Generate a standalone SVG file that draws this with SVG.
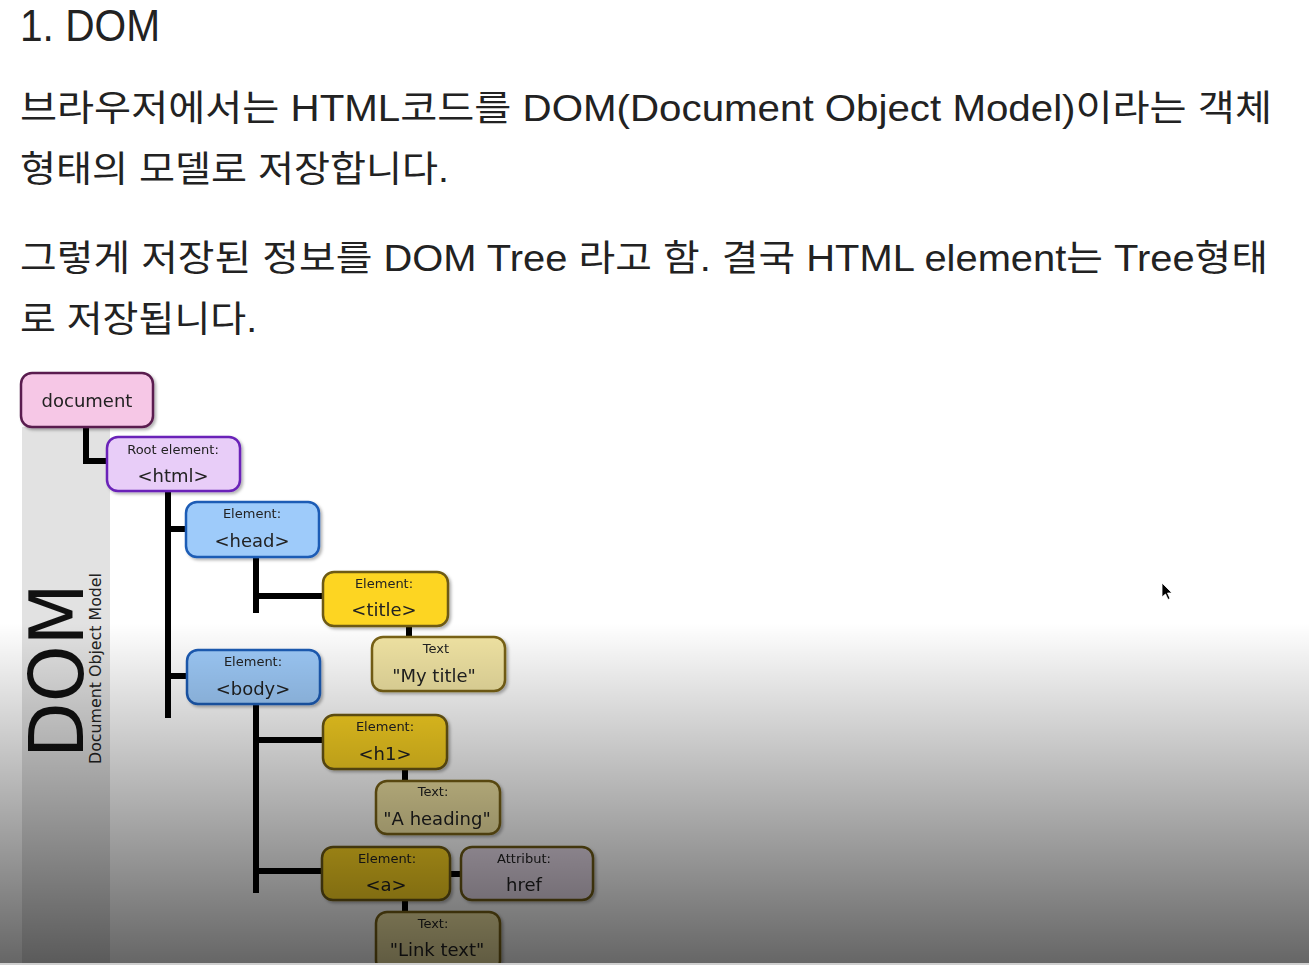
<svg xmlns="http://www.w3.org/2000/svg" width="1309" height="965" viewBox="0 0 1309 965">
<defs>
<style>
.para{font-family:"Liberation Sans","Noto Sans CJK KR",sans-serif;fill:#222;}
.lbl{font-family:"DejaVu Sans",sans-serif;font-size:13px;fill:#222;text-anchor:middle;}
.val{font-family:"DejaVu Sans",sans-serif;font-size:18px;fill:#222;text-anchor:middle;}
.box{stroke-width:2.5;}
.conn{fill:none;stroke:#000;stroke-width:6;stroke-linecap:butt;stroke-linejoin:miter;}
</style>
<filter id="sh" x="-10%" y="-10%" width="130%" height="140%">
<feDropShadow dx="2" dy="2" stdDeviation="1.5" flood-color="#000" flood-opacity="0.3"/>
</filter>
<linearGradient id="fade" x1="0" y1="623" x2="0" y2="963" gradientUnits="userSpaceOnUse">
<stop offset="0" stop-color="#000" stop-opacity="0"/>
<stop offset="1" stop-color="#000" stop-opacity="0.6"/>
</linearGradient>
</defs>
<rect x="0" y="0" width="1309" height="965" fill="#fff"/>

<g id="texts">
<text class="para" x="20" y="41" font-size="44" textLength="140" lengthAdjust="spacingAndGlyphs">1. DOM</text>
<text class="para" x="20" y="121" font-size="36" textLength="1252" lengthAdjust="spacingAndGlyphs">브라우저에서는 HTML코드를 DOM(Document Object Model)이라는 객체</text>
<text class="para" x="20" y="182" font-size="36" textLength="429" lengthAdjust="spacingAndGlyphs">형태의 모델로 저장합니다.</text>
<text class="para" x="20" y="271" font-size="36" textLength="1248" lengthAdjust="spacingAndGlyphs">그렇게 저장된 정보를 DOM Tree 라고 함. 결국 HTML element는 Tree형태</text>
<text class="para" x="20" y="332" font-size="36" textLength="237" lengthAdjust="spacingAndGlyphs">로 저장됩니다.</text>
</g>

<g id="sidebar">
<rect x="22" y="427" width="88" height="538" fill="#e2e2e2"/>
<text x="0" y="0" transform="translate(83,758) rotate(-90)" font-family="DejaVu Sans, sans-serif" font-size="74" fill="#111" textLength="175" lengthAdjust="spacingAndGlyphs">DOM</text>
<text x="0" y="0" transform="translate(101,764) rotate(-90)" font-family="DejaVu Sans, sans-serif" font-size="16" fill="#222" textLength="191" lengthAdjust="spacingAndGlyphs">Document Object Model</text>
</g>

<g id="connectors">
<path class="conn" d="M86,427 V461 H107"/>
<path class="conn" d="M168,491 V718"/>
<path class="conn" d="M168,529 H186"/>
<path class="conn" d="M168,676 H187"/>
<path class="conn" d="M256,557 V613"/>
<path class="conn" d="M256,596 H323"/>
<path class="conn" d="M409,626 V637"/>
<path class="conn" d="M256,704 V893"/>
<path class="conn" d="M256,740 H323"/>
<path class="conn" d="M256,871 H322"/>
<path class="conn" d="M405,769 V781"/>
<path class="conn" d="M450,874 H461"/>
<path class="conn" d="M405,900 V912"/>
</g>

<g id="node-document" filter="url(#sh)">
<rect class="box" x="21" y="373" width="132" height="54" rx="11" fill="#f6c7e6" stroke="#5a1f4f"/>
<text class="val" x="87" y="407">document</text>
</g>
<g id="node-html" filter="url(#sh)">
<rect class="box" x="107" y="437" width="133" height="54" rx="11" fill="#e8cdf8" stroke="#6a24b8"/>
<text class="lbl" x="173" y="454">Root element:</text>
<text class="val" x="173" y="482">&lt;html&gt;</text>
</g>
<g id="node-head" filter="url(#sh)">
<rect class="box" x="186" y="502" width="133" height="55" rx="11" fill="#9ecbfa" stroke="#1c5bb5"/>
<text class="lbl" x="252" y="518">Element:</text>
<text class="val" x="252" y="547">&lt;head&gt;</text>
</g>
<g id="node-title" filter="url(#sh)">
<rect class="box" x="323" y="572" width="125" height="54" rx="11" fill="#fdd523" stroke="#6d5a12"/>
<text class="lbl" x="384" y="588">Element:</text>
<text class="val" x="384" y="616">&lt;title&gt;</text>
</g>
<g id="node-mytitle" filter="url(#sh)">
<rect class="box" x="372" y="637" width="133" height="54" rx="11" fill="#f2e5a4" stroke="#7a6416"/>
<text class="lbl" x="436" y="653">Text</text>
<text class="val" x="434" y="682">"My title"</text>
</g>
<g id="node-body" filter="url(#sh)">
<rect class="box" x="187" y="650" width="133" height="54" rx="11" fill="#9ecbfa" stroke="#1c5bb5"/>
<text class="lbl" x="253" y="666">Element:</text>
<text class="val" x="253" y="695">&lt;body&gt;</text>
</g>
<g id="node-h1" filter="url(#sh)">
<rect class="box" x="323" y="715" width="124" height="54" rx="11" fill="#fdd523" stroke="#6d5a12"/>
<text class="lbl" x="385" y="731">Element:</text>
<text class="val" x="385" y="760">&lt;h1&gt;</text>
</g>
<g id="node-aheading" filter="url(#sh)">
<rect class="box" x="376" y="781" width="124" height="53" rx="11" fill="#f2e5a4" stroke="#7a6416"/>
<text class="lbl" x="433" y="796">Text:</text>
<text class="val" x="437" y="825">"A heading"</text>
</g>
<g id="node-a" filter="url(#sh)">
<rect class="box" x="322" y="847" width="128" height="53" rx="11" fill="#fdd523" stroke="#6d5a12"/>
<text class="lbl" x="387" y="863">Element:</text>
<text class="val" x="386" y="891">&lt;a&gt;</text>
</g>
<g id="node-href" filter="url(#sh)">
<rect class="box" x="461" y="847" width="132" height="53" rx="11" fill="#e4d8e6" stroke="#6d5a12"/>
<text class="lbl" x="524" y="863">Attribut:</text>
<text class="val" x="524" y="891">href</text>
</g>
<g id="node-linktext" filter="url(#sh)">
<rect class="box" x="376" y="912" width="124" height="60" rx="11" fill="#f2e5a4" stroke="#7a6416"/>
<text class="lbl" x="433" y="928">Text:</text>
<text class="val" x="437" y="956">"Link text"</text>
</g>

<rect id="fade-overlay" x="0" y="623" width="1309" height="342" fill="url(#fade)"/>
<rect x="0" y="963" width="1309" height="2" fill="#cfcfcf"/>

<g id="cursor">
<path d="M1162,583 L1162,597 L1165.5,594 L1168,599.5 L1170,598.5 L1167.5,593 L1172,593 Z" fill="#000" stroke="#fff" stroke-width="0.8"/>
</g>
</svg>
